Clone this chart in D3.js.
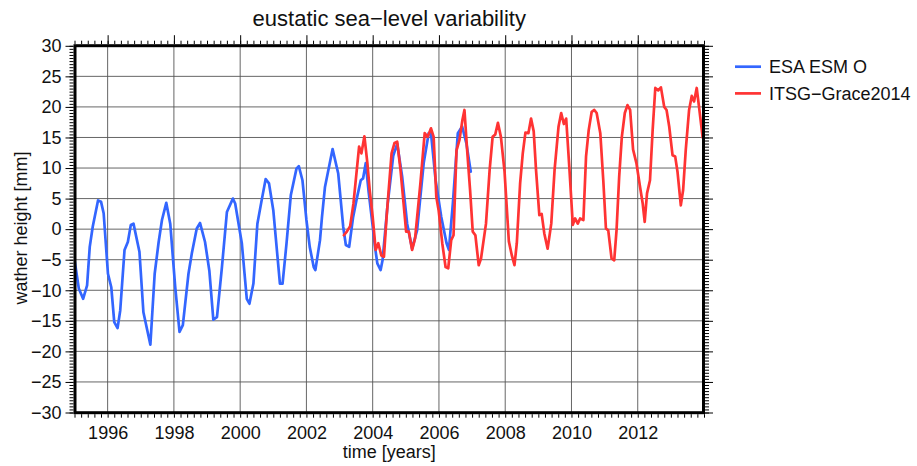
<!DOCTYPE html>
<html><head><meta charset="utf-8">
<script src="https://cdn.jsdelivr.net/npm/d3@7"></script>
<style>body{margin:0;background:#fff}svg{display:block}</style>
</head><body>
<svg id="c" width="917" height="466"></svg>
<script>
// ---- data ----
const blueYears = [1995.00,1995.13,1995.26,1995.38,1995.46,1995.55,1995.71,1995.80,1995.88,1996.01,1996.11,1996.20,1996.30,1996.38,1996.51,1996.61,1996.70,1996.78,1996.96,1997.08,1997.29,1997.42,1997.54,1997.64,1997.77,1997.89,1998.04,1998.17,1998.27,1998.44,1998.54,1998.69,1998.79,1998.94,1999.07,1999.19,1999.30,1999.45,1999.60,1999.78,1999.85,2000.05,2000.20,2000.28,2000.40,2000.52,2000.65,2000.77,2000.87,2001.00,2001.20,2001.28,2001.40,2001.53,2001.70,2001.77,2001.88,2002.00,2002.10,2002.22,2002.27,2002.41,2002.47,2002.56,2002.79,2002.96,2003.11,2003.19,2003.29,2003.41,2003.51,2003.64,2003.71,2003.79,2003.88,2004.00,2004.07,2004.14,2004.24,2004.30,2004.45,2004.62,2004.74,2004.89,2005.04,2005.19,2005.34,2005.54,2005.69,2005.76,2005.90,2006.07,2006.23,2006.30,2006.42,2006.57,2006.70,2006.83,2006.96];
const blueValues = [-5.0,-9.7,-11.4,-9.2,-2.9,0.4,4.7,4.5,2.6,-7.3,-9.5,-15.2,-16.2,-13.3,-3.4,-2.1,0.7,0.9,-3.7,-13.6,-18.9,-7.3,-2.1,1.5,4.3,0.9,-9.5,-16.8,-15.7,-7.3,-4.0,0.1,1.0,-2.1,-6.8,-14.8,-14.4,-6.2,2.8,5.0,4.2,-2.3,-11.4,-12.2,-8.9,0.9,4.75,8.2,7.5,3.1,-8.9,-8.9,-2.3,5.6,9.9,10.3,8.0,1.5,-2.9,-6.2,-6.7,-1.8,2.0,6.9,13.1,9.1,0.4,-2.6,-2.9,2.0,4.75,8.0,8.3,10.8,6.0,0.5,-2.9,-5.6,-6.7,-5.0,4.0,12.0,14.0,8.6,0.9,-3.2,-0.2,10.8,15.7,15.7,8.0,2.0,-2.3,-3.4,4.2,15.7,16.8,14.0,9.4];

const redYears = [2003.13,2003.22,2003.32,2003.42,2003.59,2003.66,2003.75,2003.84,2003.91,2004.00,2004.09,2004.17,2004.26,2004.34,2004.42,2004.57,2004.66,2004.74,2004.84,2005.01,2005.09,2005.19,2005.28,2005.44,2005.57,2005.66,2005.76,2005.84,2005.92,2005.99,2006.10,2006.20,2006.28,2006.37,2006.44,2006.53,2006.62,2006.71,2006.77,2006.85,2006.94,2007.02,2007.10,2007.20,2007.27,2007.42,2007.53,2007.62,2007.70,2007.78,2007.87,2007.98,2008.11,2008.20,2008.28,2008.35,2008.45,2008.53,2008.61,2008.70,2008.78,2008.86,2008.93,2009.03,2009.10,2009.18,2009.28,2009.39,2009.49,2009.61,2009.69,2009.77,2009.84,2009.94,2010.04,2010.11,2010.19,2010.26,2010.36,2010.44,2010.52,2010.61,2010.69,2010.76,2010.87,2010.96,2011.04,2011.11,2011.21,2011.29,2011.36,2011.44,2011.52,2011.61,2011.69,2011.77,2011.86,2011.96,2012.07,2012.15,2012.21,2012.28,2012.37,2012.45,2012.53,2012.62,2012.70,2012.80,2012.87,2012.95,2013.05,2013.13,2013.20,2013.30,2013.37,2013.45,2013.55,2013.63,2013.70,2013.78,2013.85,2013.96];
const redValues = [-1.0,-0.4,0.5,4.2,13.5,12.4,15.2,10.8,6.4,2.0,-3.4,-2.3,-4.3,-4.5,2.0,12.4,14.1,14.3,9.7,-0.4,-0.4,-3.4,-1.5,7.5,15.7,15.1,16.5,15.1,5.3,3.1,-2.3,-6.2,-6.4,-1.8,-1.0,12.9,14.6,17.9,19.5,13.0,6.4,-0.4,-1.0,-5.9,-4.8,0.9,9.7,15.1,15.5,17.4,15.1,9.4,-2.0,-4.3,-5.9,-2.3,7.5,12.4,15.8,15.7,18.1,16.0,9.7,2.3,2.5,-0.7,-3.2,0.9,9.7,16.8,19.0,17.2,18.1,9.7,0.7,1.75,0.9,1.75,1.5,11.9,16.2,19.2,19.5,19.0,15.7,8.0,0.1,-0.2,-4.8,-5.1,-0.2,8.6,15.1,19.0,20.3,19.5,13.0,10.8,6.9,4.2,1.2,5.85,8.0,16.2,23.1,22.7,23.2,20.0,19.5,16.8,12.1,11.9,9.4,3.9,6.4,13.0,19.5,21.8,20.9,23.1,20.0,15.0];

const seriesNames = ["ESA ESM O", "ITSG\u2212Grace2014"];
const seriesColors = ["#3366ff", "#ff3333"];
const xLabelYears = [1996,1998,2000,2002,2004,2006,2008,2010,2012];
const yLabelValues = [-30,-25,-20,-15,-10,-5,0,5,10,15,20,25,30];
const gridYears = [1996,1998,2000,2002,2004,2006,2008,2010,2012];
const gridValues = [-25,-20,-15,-10,-5,0,5,10,15,20,25];

// ---- layout ----
const FONT = "'Liberation Sans', Arial, Helvetica, sans-serif";
const L = 75, R = 703.5, T = 45.7, B = 412.7;
const svg = d3.select("#c").style("font-family", FONT);
const x = d3.scaleLinear().domain([1995, 2014]).range([74.5, 704]);
const y = d3.scaleLinear().domain([-30, 30]).range([412.5, 45.8]);

// grid
const grid = svg.append("g").attr("stroke", "#555").attr("stroke-width", 0.9);
grid.selectAll("line.v").data(gridYears).join("line")
  .attr("x1", d => x(d)).attr("x2", d => x(d)).attr("y1", T).attr("y2", B);
grid.selectAll("line.h").data(gridValues).join("line")
  .attr("y1", d => y(d)).attr("y2", d => y(d)).attr("x1", L).attr("x2", R);

// series
svg.append("clipPath").attr("id", "clip").append("rect")
  .attr("x", L).attr("y", T).attr("width", R - L).attr("height", B - T);
const line = d3.line().x(d => x(d[0])).y(d => y(d[1]));
const blueData = blueYears.map((t, i) => [t, blueValues[i]]);
const redData = redYears.map((t, i) => [t, redValues[i]]);
const lg = svg.append("g").attr("clip-path", "url(#clip)");
[blueData, redData].forEach((d, i) => {
  lg.append("path").datum(d).attr("d", line).attr("fill", "none")
    .attr("stroke", seriesColors[i]).attr("stroke-width", 2.7)
    .attr("stroke-linejoin", "round").attr("stroke-linecap", "round");
});

// axes (ticks)
const minorX = d3.range(0, 96).map(i => 1995 + i * 0.2).filter(v => v <= 2014.001);
const minorY = d3.range(0, 121).map(i => -30 + i * 0.5);
function styleAxis(g) {
  g.select(".domain").remove();
  g.selectAll(".tick line").attr("stroke", "#000").attr("stroke-width", 1);
  g.selectAll("text").attr("font-family", FONT).attr("font-size", 18).attr("fill", "#111");
}
// bottom
svg.append("g").attr("transform", `translate(0,${B + 1.5})`)
  .call(d3.axisBottom(x).tickValues(minorX).tickSize(3.5).tickFormat(""))
  .call(styleAxis);
svg.append("g").attr("transform", `translate(0,${B + 1.5})`)
  .call(d3.axisBottom(x).tickValues(xLabelYears).tickSize(0).tickPadding(12).tickFormat(d3.format("d")))
  .call(styleAxis);
// top
svg.append("g").attr("transform", `translate(0,${T - 1.5})`)
  .call(d3.axisTop(x).tickValues(minorX).tickSize(3.5).tickFormat(""))
  .call(styleAxis);
svg.append("g").attr("transform", `translate(0,${T - 1.5})`)
  .call(d3.axisTop(x).tickValues(xLabelYears).tickSize(9).tickFormat(""))
  .call(styleAxis);
// left
svg.append("g").attr("transform", `translate(${L - 1.5},0)`)
  .call(d3.axisLeft(y).tickValues(minorY).tickSize(4).tickFormat(""))
  .call(styleAxis);
svg.append("g").attr("transform", `translate(${L - 1.5},0)`)
  .call(d3.axisLeft(y).tickValues(yLabelValues).tickSize(8).tickPadding(4).tickFormat(d3.format("d")))
  .call(styleAxis);
// right
svg.append("g").attr("transform", `translate(${R + 1.5},0)`)
  .call(d3.axisRight(y).tickValues(minorY).tickSize(4).tickFormat(""))
  .call(styleAxis);
svg.append("g").attr("transform", `translate(${R + 1.5},0)`)
  .call(d3.axisRight(y).tickValues(yLabelValues).tickSize(8).tickFormat(""))
  .call(styleAxis);

// frame
svg.append("rect").attr("x", L).attr("y", T).attr("width", R - L).attr("height", B - T)
  .attr("fill", "none").attr("stroke", "#000").attr("stroke-width", 3);

// titles
svg.append("text").attr("x", (L + R) / 2).attr("y", 26).attr("text-anchor", "middle")
  .attr("font-size", 22).attr("fill", "#111").text("eustatic sea\u2212level variability");
svg.append("text").attr("x", (L + R) / 2).attr("y", 458).attr("text-anchor", "middle")
  .attr("font-size", 18).attr("fill", "#111").text("time [years]");
svg.append("text").attr("transform", "translate(27,228) rotate(-90)").attr("text-anchor", "middle")
  .attr("font-size", 18).attr("fill", "#111").text("wather height [mm]");

// legend
const leg = svg.append("g");
seriesNames.forEach((name, i) => {
  const yy = 66.7 + i * 26.7;
  leg.append("line").attr("x1", 735).attr("x2", 761).attr("y1", yy).attr("y2", yy)
    .attr("stroke", seriesColors[i]).attr("stroke-width", 2.7);
  leg.append("text").attr("x", 769).attr("y", yy + 6.5).attr("font-size", 18)
    .attr("fill", "#111").text(name);
});
</script>
</body></html>
